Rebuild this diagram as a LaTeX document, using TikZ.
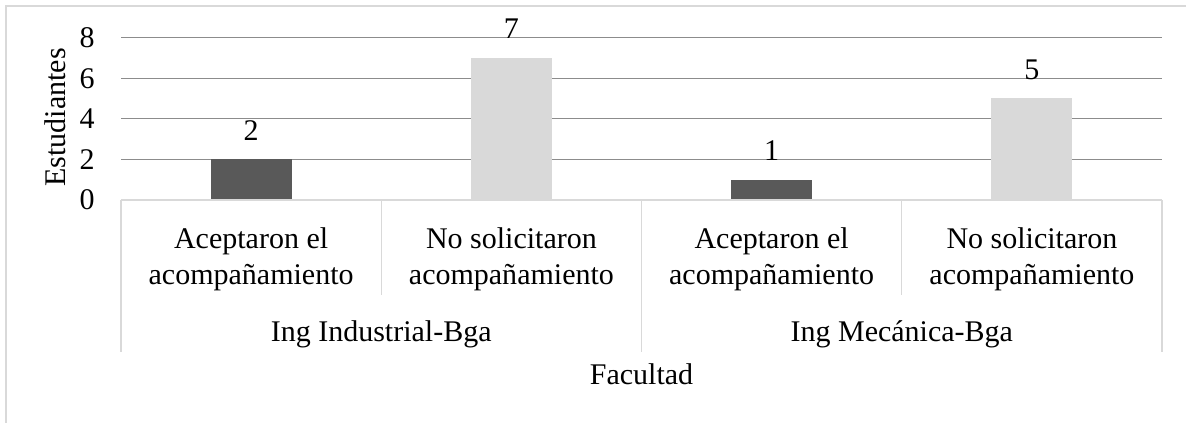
\documentclass[tikz,border=0pt]{standalone}
\usepackage{fontspec}
\setmainfont{Liberation Serif}
\definecolor{barDark}{HTML}{595959}
\definecolor{barLight}{HTML}{D9D9D9}
\definecolor{gridGray}{HTML}{8C8C8C}
\definecolor{boxGray}{HTML}{D9D9D9}
\tikzset{
  lbl/.style={inner sep=0pt,font=\fontsize{15}{18}\selectfont},
  grid line/.style={gridGray,line width=0.6pt},
  box line/.style={boxGray,line width=0.6pt}
}
\begin{document}
\begin{tikzpicture}[x=0.5pt,y=-0.5pt]
    \useasboundingbox (0,0) rectangle (1186,423);
    \draw[boxGray,line width=1pt] (1186,6) -- (6,6) -- (6,423);

    % Horizontal grid lines
    \draw[grid line] (121,37.7) -- (1162,37.7);
    \draw[grid line] (121,78.3) -- (1162,78.3);
    \draw[grid line] (121,118.7) -- (1162,118.7);
    \draw[grid line] (121,159.3) -- (1162,159.3);

    % Bars
    \fill[barDark] (210.6,200) rectangle (291.6,159.3);
    \fill[barLight] (470.9,200) rectangle (551.9,57.7);
    \fill[barDark] (731.1,200) rectangle (812.1,179.7);
    \fill[barLight] (991.4,200) rectangle (1072.4,98.3);

    % Category axis box
    \draw[box line] (121,200) -- (1162,200);
    \draw[box line] (121,200) -- (121,351.5);
    \draw[box line] (381.2,200) -- (381.2,295);
    \draw[box line] (641.5,200) -- (641.5,351.5);
    \draw[box line] (901.8,200) -- (901.8,295);
    \draw[box line] (1162,200) -- (1162,351.5);

    % Tick labels and axis title
    \node[lbl,anchor=east] (t0) at (95,200) {0};
    \node[lbl,anchor=east] (t2) at (95,159.3) {2};
    \node[lbl,anchor=east] (t4) at (95,118.7) {4};
    \node[lbl,anchor=east] (t6) at (95,78.3) {6};
    \node[lbl,anchor=east] (t8) at (95,37.7) {8};
    \node[lbl,anchor=base,rotate=90] (ylabel) at (65,117.5) {Estudiantes};

    % Value labels
    \node[lbl,anchor=base] (v1) at (251.1,140.5) {2};
    \node[lbl,anchor=base] (v2) at (511.4,38.5) {7};
    \node[lbl,anchor=base] (v3) at (771.6,160.5) {1};
    \node[lbl,anchor=base] (v4) at (1031.9,79) {5};

    % Category and group labels
    \node[lbl,anchor=north,align=center] (c1) at (251.1,227.5) {Aceptaron el\\acompañamiento};
    \node[lbl,anchor=north,align=center] (c2) at (511.4,227.5) {No solicitaron\\acompañamiento};
    \node[lbl,anchor=north,align=center] (c3) at (771.6,227.5) {Aceptaron el\\acompañamiento};
    \node[lbl,anchor=north,align=center] (c4) at (1031.9,227.5) {No solicitaron\\acompañamiento};
    \node[lbl,anchor=base] (g1) at (381.2,341.7) {Ing Industrial-Bga};
    \node[lbl,anchor=base] (g2) at (901.8,341.7) {Ing Mecánica-Bga};
    \node[lbl,anchor=base] (xlabel) at (641.5,384.3) {Facultad};
\end{tikzpicture}
\end{document}
